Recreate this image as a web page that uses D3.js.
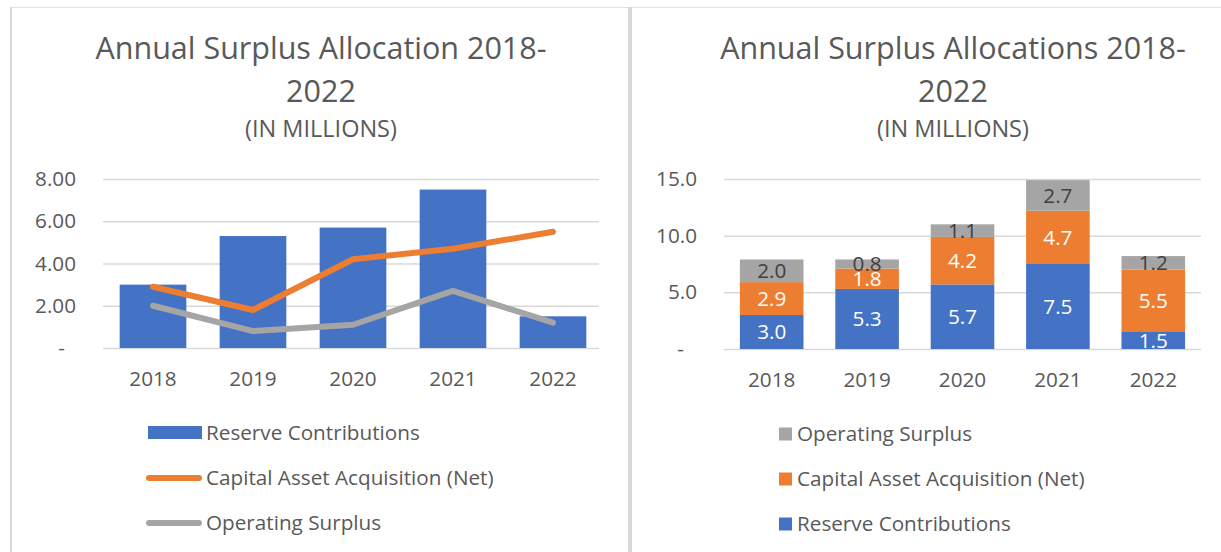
<!DOCTYPE html>
<html>
<head>
<meta charset="utf-8">
<script src="https://cdn.jsdelivr.net/npm/d3@7"></script>
<style>
  body { margin: 0; background: #fff; }
  svg { display: block; }
</style>
</head>
<body>
<div id="plot"></div>
<script>
window.addEventListener("load", main)

// data (millions)
const years = ["2018", "2019", "2020", "2021", "2022"];
const reserve = [3.0, 5.3, 5.7, 7.5, 1.5];
const capital = [2.9, 1.8, 4.2, 4.7, 5.5];
const operating = [2.0, 0.8, 1.1, 2.7, 1.2];
const leftTicks = [0, 2, 4, 6, 8];
const rightTicks = [0, 5, 10, 15];
const leftTitle = ["Annual Surplus Allocation 2018-", "2022"];
const rightTitle = ["Annual Surplus Allocations 2018-", "2022"];
const subTitle = "(IN MILLIONS)";
const names = {
  reserve: "Reserve Contributions",
  capital: "Capital Asset Acquisition (Net)",
  operating: "Operating Surplus"
};

function main(){

  const width = 1221, height = 552;
  const font = "'Open Sans', sans-serif";
  const txt = "#595959";
  const grid = "#d9d9d9";
  const colors = { reserve: "#4472C4", capital: "#ED7D31", operating: "#A5A5A5" };

  let svg = d3.select("#plot").append("svg")
    .attr("width", width)
    .attr("height", height)
    .style("font-family", font);

  // panel frame
  svg.append("rect").attr("x", 10).attr("y", 7).attr("width", 1211).attr("height", 1).attr("fill", "#e3e3e3");
  svg.append("rect").attr("x", 10).attr("y", 7).attr("width", 2).attr("height", 545).attr("fill", grid);
  svg.append("rect").attr("x", 628).attr("y", 7).attr("width", 4).attr("height", 545).attr("fill", grid);

  function addTitle(lines, cx){
    let g = svg.append("g").attr("fill", txt).attr("text-anchor", "middle");
    g.selectAll("text.t").data(lines).join("text")
      .attr("class", "t")
      .attr("x", cx)
      .attr("y", (d, i) => 59 + i * 43)
      .style("font-size", "30.5px")
      .text(d => d);
    g.append("text")
      .attr("x", cx).attr("y", 137)
      .style("font-size", "23.5px")
      .text(subTitle);
  }

  // y gridlines + labels, dash for zero like Excel accounting format
  function addYAxis(y, ticks, fmt, left, right, dashShift){
    let g = svg.append("g")
      .attr("transform", `translate(${left},0)`)
      .call(d3.axisLeft(y).tickValues(ticks).tickSize(-(right - left)).tickPadding(27).tickFormat(fmt));
    g.select(".domain").remove();
    g.selectAll("line").attr("stroke", grid).attr("stroke-width", 1.5);
    g.selectAll("text")
      .attr("fill", txt)
      .style("font-size", "20.7px")
      .style("font-family", font)
      .attr("dx", d => d === 0 ? -dashShift : 0);
  }

  function addXAxis(x, y0){
    let g = svg.append("g")
      .attr("transform", `translate(0,${y0})`)
      .call(d3.axisBottom(x).tickSize(0).tickPadding(23));
    g.select(".domain").remove();
    g.selectAll("text")
      .attr("fill", txt)
      .style("font-size", "20.7px")
      .style("font-family", font);
  }

  // ---------- left: bars + lines ----------
  function drawLeft(){
    let x = d3.scaleBand().domain(years).range([103, 603]).paddingInner(1/3).paddingOuter(1/6);
    let y = d3.scaleLinear().domain([0, 8]).range([348, 179]);

    addTitle(leftTitle, 321);
    addYAxis(y, leftTicks, d => d === 0 ? "-" : d.toFixed(2), 103, 599, 11);

    svg.append("g").attr("id", "leftBars")
      .selectAll("rect")
      .data(years)
      .join("rect")
        .attr("x", d => x(d))
        .attr("y", (d, i) => y(reserve[i]))
        .attr("width", x.bandwidth())
        .attr("height", (d, i) => y(0) - y(reserve[i]))
        .attr("fill", colors.reserve);

    let line = d3.line()
      .x((d, i) => x(years[i]) + x.bandwidth() / 2)
      .y(d => y(d));

    [["operating", operating], ["capital", capital]].forEach(([k, vals]) => {
      svg.append("path")
        .attr("d", line(vals))
        .attr("fill", "none")
        .attr("stroke", colors[k])
        .attr("stroke-width", 6)
        .attr("stroke-linecap", "round")
        .attr("stroke-linejoin", "round");
    });

    addXAxis(x, 348);

    // legend
    let lg = svg.append("g").attr("id", "leftLegend");
    let rows = ["reserve", "capital", "operating"];
    rows.forEach((k, i) => {
      let cy = 433 + i * 45;
      if (k === "reserve") {
        lg.append("rect").attr("x", 148).attr("y", cy - 7).attr("width", 54).attr("height", 13).attr("fill", colors[k]);
      } else {
        lg.append("line").attr("x1", 149).attr("x2", 199).attr("y1", cy).attr("y2", cy)
          .attr("stroke", colors[k]).attr("stroke-width", 6).attr("stroke-linecap", "round");
      }
      lg.append("text").attr("x", 206).attr("y", cy).attr("dy", "0.35em")
        .attr("fill", txt).style("font-size", "20.7px").text(names[k]);
    });
  }

  // ---------- right: stacked bars ----------
  function drawRight(){
    let x = d3.scaleBand().domain(years).range([724, 1201]).paddingInner(1/3).paddingOuter(1/6);
    let y = d3.scaleLinear().domain([0, 15]).range([349, 179]);

    addTitle(rightTitle, 953);
    addYAxis(y, rightTicks, d => d === 0 ? "-" : d.toFixed(1), 724, 1201, 13);

    let table = years.map((yr, i) => ({ year: yr, reserve: reserve[i], capital: capital[i], operating: operating[i] }));
    let keys = ["reserve", "capital", "operating"];
    let stacked = d3.stack().keys(keys)(table);

    let layers = svg.append("g").attr("id", "stackBars")
      .selectAll("g")
      .data(stacked)
      .join("g")
        .attr("fill", d => colors[d.key]);

    layers.selectAll("rect")
      .data(d => d)
      .join("rect")
        .attr("x", d => x(d.data.year))
        .attr("y", d => y(d[1]))
        .attr("width", x.bandwidth())
        .attr("height", d => y(d[0]) - y(d[1]));

    layers.each(function(layer){
      d3.select(this).selectAll("text")
        .data(layer)
        .join("text")
          .attr("x", d => x(d.data.year) + x.bandwidth() / 2)
          .attr("y", d => y((d[0] + d[1]) / 2))
          .attr("dy", "0.35em")
          .attr("text-anchor", "middle")
          .attr("fill", layer.key === "operating" ? "#404040" : "#ffffff")
          .style("font-size", "20.7px")
          .text(d => (d[1] - d[0]).toFixed(1));
    });

    addXAxis(x, 349);

    let lg = svg.append("g").attr("id", "rightLegend");
    ["operating", "capital", "reserve"].forEach((k, i) => {
      let cy = 434 + i * 45;
      lg.append("rect").attr("x", 779).attr("y", cy - 6.5).attr("width", 13).attr("height", 13).attr("fill", colors[k]);
      lg.append("text").attr("x", 797).attr("y", cy).attr("dy", "0.35em")
        .attr("fill", txt).style("font-size", "20.7px").text(names[k]);
    });
  }

  drawLeft();
  drawRight();
}
</script>
</body>
</html>
